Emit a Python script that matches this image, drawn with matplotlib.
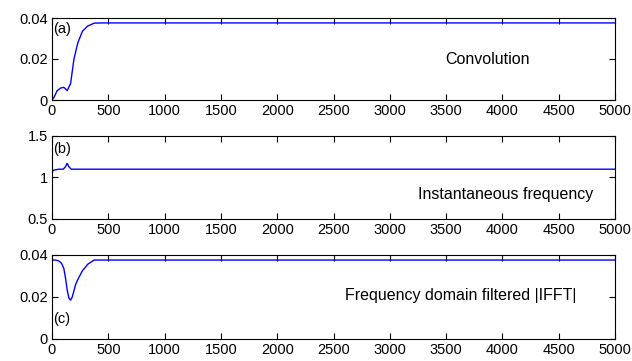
import matplotlib
matplotlib.use("Agg")
import matplotlib.pyplot as plt
from matplotlib.ticker import FuncFormatter

# (a) convolution
conv_x = [0, 20, 45, 75, 105, 135, 165, 195, 230, 270, 315, 375, 450, 5000]
conv_y = [0.0, 0.0015, 0.0045, 0.0058, 0.0062, 0.0046, 0.008, 0.020, 0.028, 0.0335, 0.036, 0.0375, 0.0376, 0.0376]

# (b) instantaneous frequency
freq_x = [0, 5, 20, 60, 100, 120, 135, 150, 170, 200, 5000]
freq_y = [1.0, 1.08, 1.09, 1.10, 1.10, 1.13, 1.17, 1.13, 1.10, 1.10, 1.10]

# (c) frequency domain filtered |IFFT|
ifft_x = [0, 30, 60, 85, 105, 120, 135, 150, 165, 180, 195, 210, 230, 270, 320, 375, 450, 5000]
ifft_y = [0.0376, 0.0376, 0.0372, 0.036, 0.0336, 0.029, 0.0233, 0.0195, 0.0185, 0.020, 0.023, 0.026, 0.0284, 0.0325, 0.0357, 0.0376, 0.0376, 0.0376]

xticks = list(range(0, 5001, 500))

plt.rcParams["font.family"] = ["Liberation Sans", "DejaVu Sans"]
plt.rcParams["font.size"] = 10.5

fig = plt.figure(figsize=(6.32, 3.61), dpi=100)
W, H = 632, 361
left, right = 52 / W, 615 / W
boxes = [(18, 100), (136, 219), (255, 339)]

panels = [
    (conv_x, conv_y, (0, 0.04), [0, 0.02, 0.04], "(a)", 0.86, "Convolution", (0.773, 0.49, "center")),
    (freq_x, freq_y, (0.5, 1.5), [0.5, 1, 1.5], "(b)", 0.84, "Instantaneous frequency", (0.961, 0.29, "right")),
    (ifft_x, ifft_y, (0, 0.04), [0, 0.02, 0.04], "(c)", 0.24, "Frequency domain filtered |IFFT|", (0.52, 0.52, "left")),
]

fmt = FuncFormatter(lambda v, _: f"{v:g}")

for (top, bottom), (x, y, ylim, yt, tag, tag_y, label, (tx, ty, ha)) in zip(boxes, panels):
    ax = fig.add_axes([left, 1 - bottom / H, right - left, (bottom - top) / H])
    ax.plot(x, y, color="#0000ff", linewidth=1.0)
    ax.set_xlim(0, 5000)
    ax.set_ylim(*ylim)
    ax.set_xticks(xticks)
    ax.set_yticks(yt)
    ax.yaxis.set_major_formatter(fmt)
    ax.tick_params(direction="in", top=True, right=True, length=4, width=0.8, pad=3)
    for s in ax.spines.values():
        s.set_linewidth(0.8)
    ax.text(0.002, tag_y, tag, transform=ax.transAxes, ha="left", va="center")
    ax.text(tx, ty, label, transform=ax.transAxes, ha=ha, va="center", fontsize=11.5)

fig.savefig("out.png", dpi=100)
